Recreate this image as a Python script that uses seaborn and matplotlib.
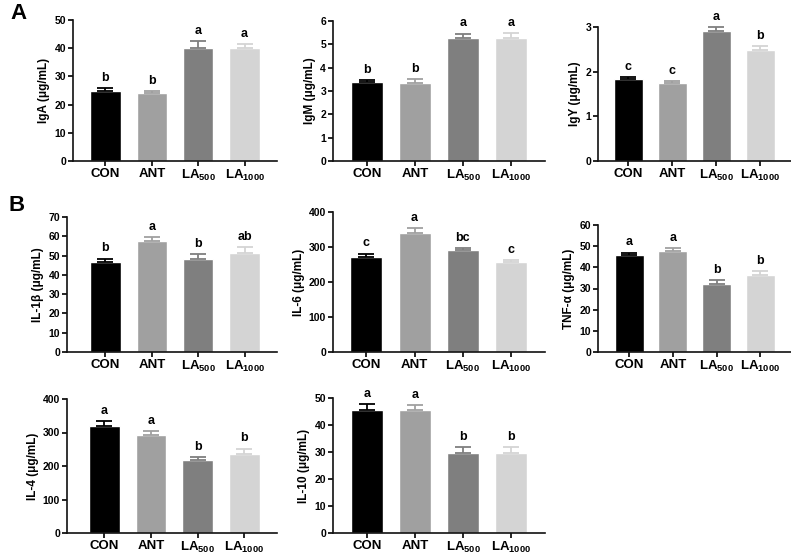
# =========================================
# SERUM IMMUNOGLOBULINS AND CYTOKINES
# =========================================

import numpy as np
import pandas as pd
import seaborn as sns
import matplotlib.pyplot as plt

sns.set_style("ticks")
plt.rcParams['font.family'] = ['Liberation Sans', 'DejaVu Sans']
plt.rcParams['font.weight'] = 'bold'
plt.rcParams['axes.labelweight'] = 'bold'
plt.rcParams['text.color'] = 'black'
plt.rcParams['axes.labelcolor'] = 'black'
plt.rcParams['xtick.color'] = 'black'
plt.rcParams['ytick.color'] = 'black'
plt.rcParams['axes.edgecolor'] = '#111111'
plt.rcParams['mathtext.fontset'] = 'custom'
plt.rcParams['mathtext.rm'] = 'Liberation Sans'
plt.rcParams['mathtext.default'] = 'rm'


# =========================================
# DATA
# =========================================

groups = ['CON', 'ANT', 'LA500', 'LA1000']
group_labels = ['CON', 'ANT', 'LA$_{500}$', 'LA$_{1000}$']
group_colors = ['#000000', '#a0a0a0', '#7f7f7f', '#d4d4d4']

iga_mean = [25.0, 24.0, 40.0, 40.0]
iga_err = [1.0, 0.9, 2.5, 1.6]
iga_letters = ['b', 'b', 'a', 'a']

igm_mean = [3.38, 3.36, 5.29, 5.28]
igm_err = [0.10, 0.14, 0.17, 0.21]
igm_letters = ['b', 'b', 'a', 'a']

igy_mean = [1.83, 1.74, 2.90, 2.48]
igy_err = [0.04, 0.05, 0.09, 0.09]
igy_letters = ['c', 'c', 'a', 'b']

il1b_mean = [46.8, 57.8, 48.1, 51.4]
il1b_err = [1.6, 2.0, 2.8, 3.2]
il1b_letters = ['b', 'a', 'b', 'ab']

il6_mean = [272, 340, 292, 256]
il6_err = [9, 13, 6, 7]
il6_letters = ['c', 'a', 'bc', 'c']

tnfa_mean = [45.9, 47.6, 32.1, 36.3]
tnfa_err = [1.1, 1.5, 2.0, 1.8]
tnfa_letters = ['a', 'a', 'b', 'b']

il4_mean = [320, 292, 219, 237]
il4_err = [14, 13, 8, 15]
il4_letters = ['a', 'a', 'b', 'b']

il10_mean = [45.7, 45.5, 29.6, 29.6]
il10_err = [1.9, 1.9, 2.1, 2.1]
il10_letters = ['a', 'a', 'b', 'b']


# =========================================
# PANEL LAYOUT (pixel boxes of each axis)
# =========================================

W, H = 791, 556

panels = [
    # mean, err, letters, ylabel, ymax, ystep, (x0, x1, ytop, ybot), xleft
    (iga_mean, iga_err, iga_letters, 'IgA (μg/mL)', 50, 10, (73, 277, 20, 161), -0.70),
    (igm_mean, igm_err, igm_letters, 'IgM (μg/mL)', 6, 1, (333, 545, 21, 161), -0.71),
    (igy_mean, igy_err, igy_letters, 'IgY (μg/mL)', 3, 1, (598, 791, 27, 161), -0.69),
    (il1b_mean, il1b_err, il1b_letters, 'IL-1β (μg/mL)', 70, 10, (67, 277, 217, 352), -0.83),
    (il6_mean, il6_err, il6_letters, 'IL-6 (μg/mL)', 400, 100, (333, 545, 212, 352), -0.69),
    (tnfa_mean, tnfa_err, tnfa_letters, 'TNF-α (μg/mL)', 60, 10, (598, 791, 225, 352), -0.71),
    (il4_mean, il4_err, il4_letters, 'IL-4 (μg/mL)', 400, 100, (67, 277, 399, 533), -0.80),
    (il10_mean, il10_err, il10_letters, 'IL-10 (μg/mL)', 50, 10, (333, 545, 398, 533), -0.71),
]

fig = plt.figure(figsize=(W / 100, H / 100), dpi=100)

for mean, err, letters, ylabel, ymax, ystep, box, xleft in panels:
    x0, x1, ytop, ybot = box
    ax = fig.add_axes([x0 / W, 1 - ybot / H, (x1 - x0) / W, (ybot - ytop) / H])

    df = pd.DataFrame({'group': groups, 'value': mean})
    sns.barplot(
        data=df, x='group', y='value', hue='group',
        palette=group_colors, saturation=1, width=0.66,
        legend=False, ax=ax
    )

    # upper-only error bars, same colour as the bar
    for i in range(len(groups)):
        ax.errorbar(
            i, mean[i], yerr=[[0], [err[i]]],
            color=group_colors[i], capsize=6, elinewidth=1.3,
            capthick=1.3, clip_on=False
        )
        ax.annotate(
            letters[i], (i, mean[i] + err[i]),
            xytext=(0, 3), textcoords='offset points',
            ha='center', va='bottom', fontsize=9, fontweight='bold'
        )

    ax.set_xlim(xleft, 3.7)
    ax.set_ylim(0, ymax)
    ax.set_yticks(np.arange(0, ymax + ystep / 2, ystep))
    ax.set_xticks(range(len(groups)))
    ax.set_xticklabels(group_labels, fontsize=9.5, fontweight='bold')
    ax.tick_params(axis='y', labelsize=7.5, width=1.2, length=3.5, pad=1.5)
    ax.tick_params(axis='x', width=1.2, length=3.5, pad=1.5)
    ax.set_xlabel('')
    ax.set_ylabel(ylabel, fontsize=8.5, fontweight='bold', labelpad=3)
    for side in ['left', 'bottom']:
        ax.spines[side].set_linewidth(1.2)
    sns.despine(ax=ax)

fig.text(10 / W, 1 - 19 / H, 'A', fontsize=16, fontweight='bold')
fig.text(8 / W, 1 - 211 / H, 'B', fontsize=16, fontweight='bold')

plt.savefig('out.png', dpi=100)
